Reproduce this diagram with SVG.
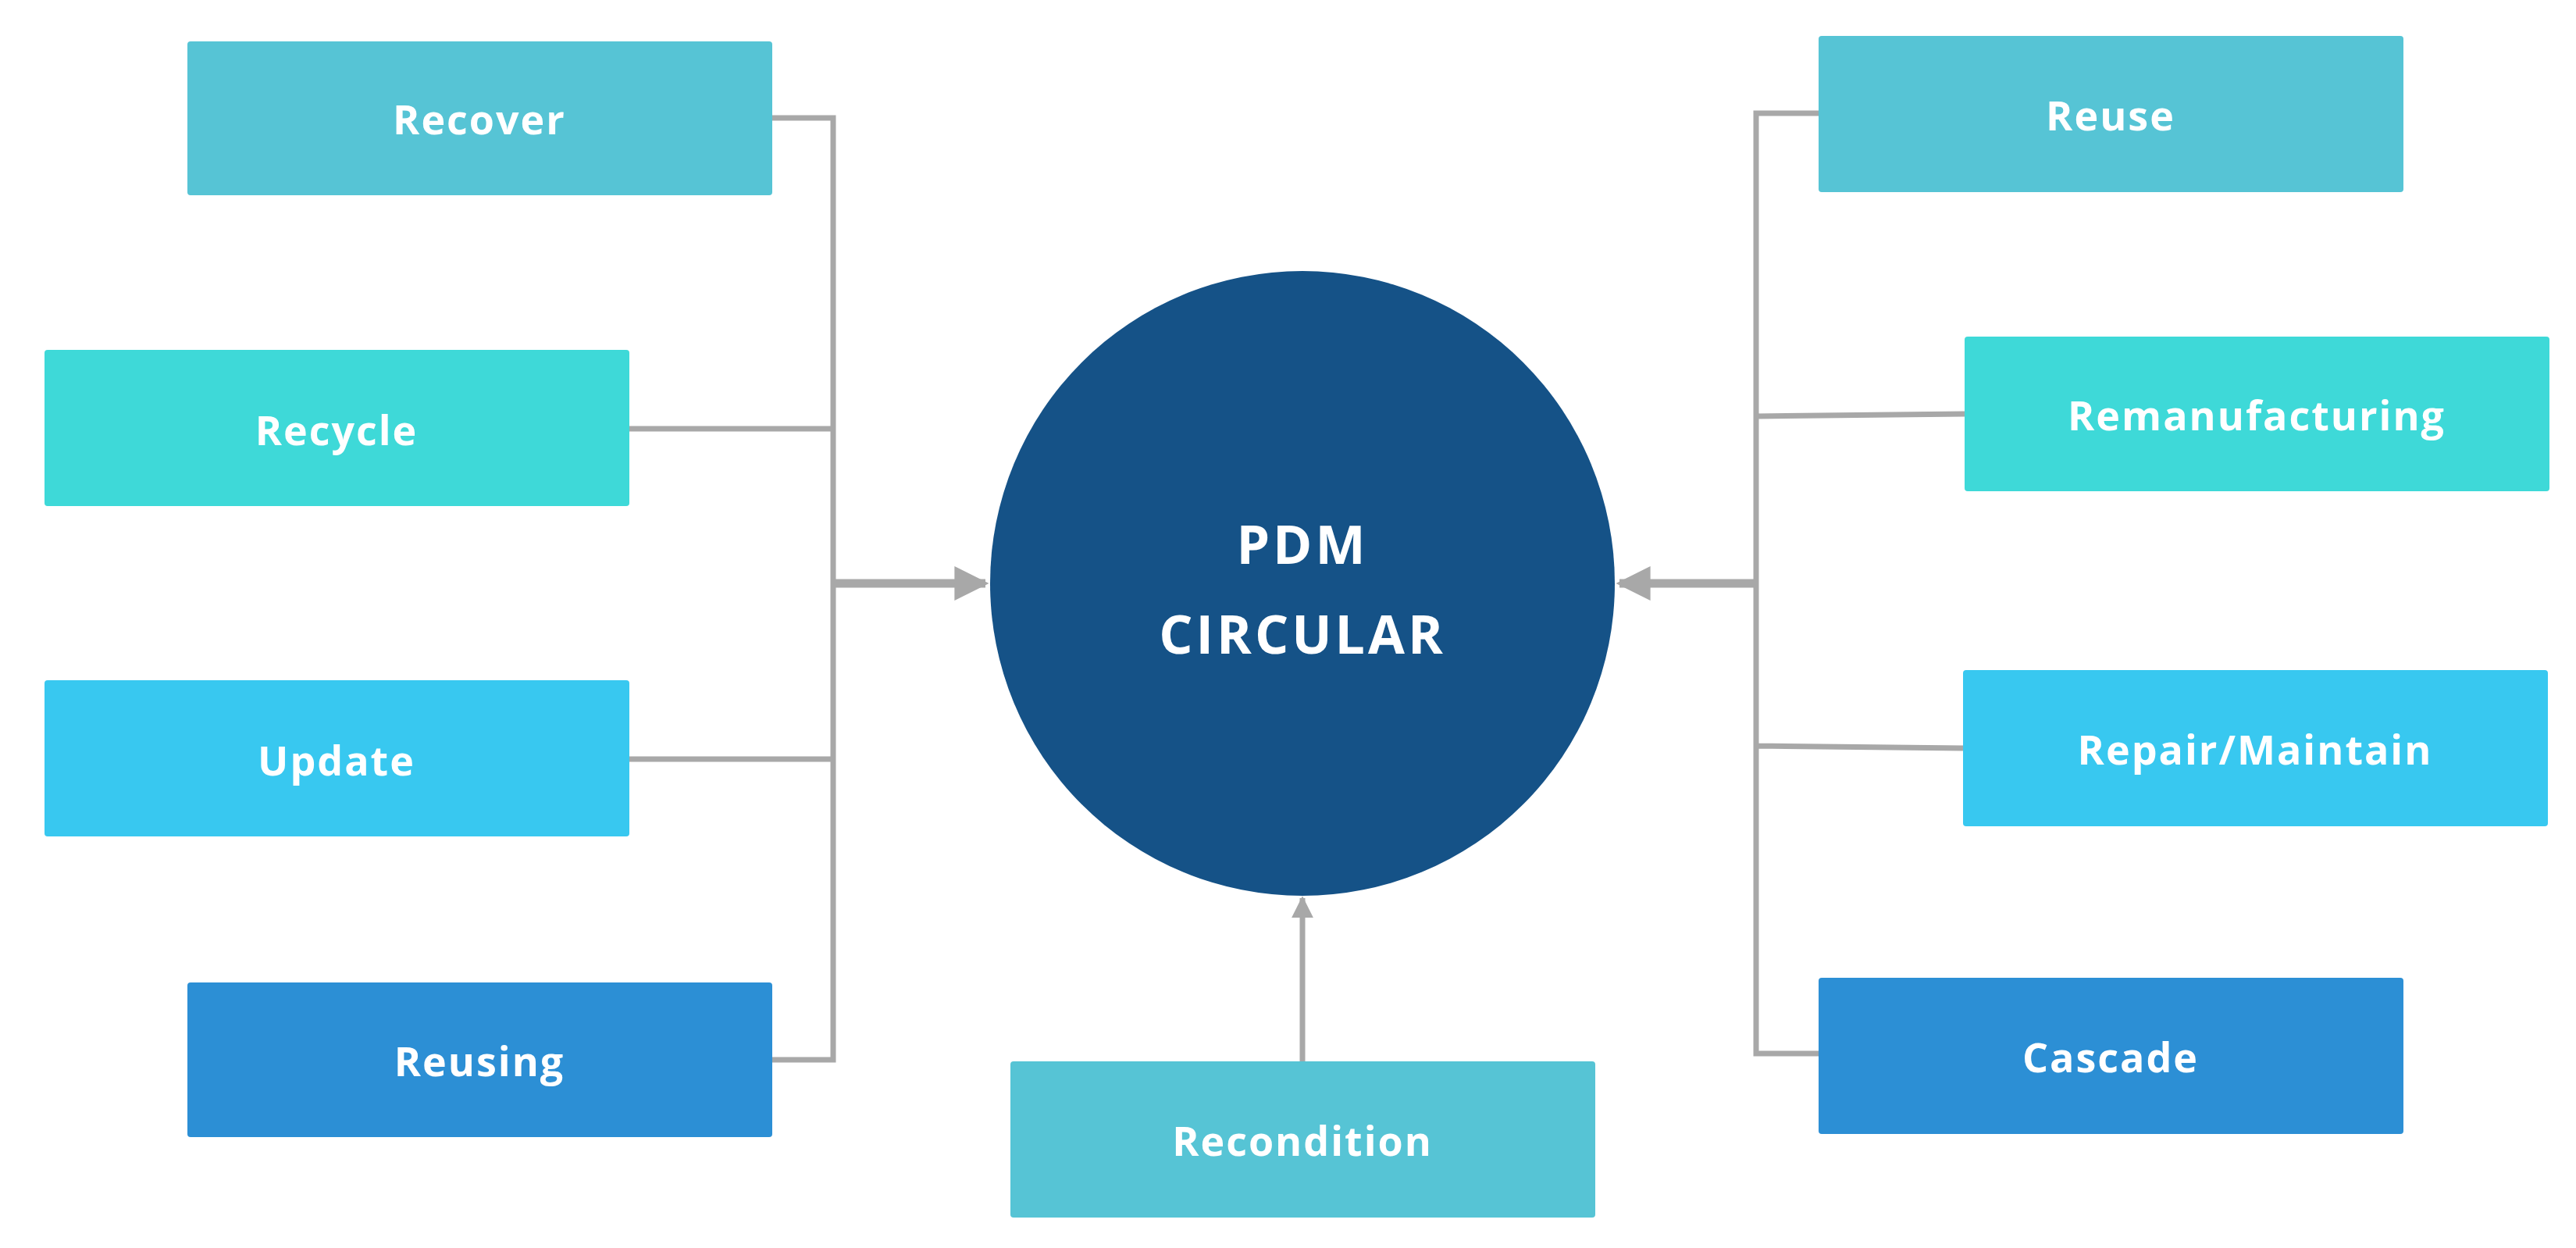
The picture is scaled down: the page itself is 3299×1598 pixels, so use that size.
<svg xmlns="http://www.w3.org/2000/svg" width="3299" height="1598" viewBox="0 0 3299 1598">
<style>
.t{font-family:"Open Sans","Liberation Sans",sans-serif;font-weight:bold;font-size:52px;fill:#fff;text-anchor:middle;dominant-baseline:central;letter-spacing:2px}
.c{font-size:68px;letter-spacing:4px}
.l{stroke:#A8A8A8;stroke-width:7;fill:none}
.a{stroke:#A8A8A8;stroke-width:11;fill:none}
</style>
<defs><marker id="ah" viewBox="0 0 10 10" refX="9" refY="5" markerWidth="4" markerHeight="5" markerUnits="strokeWidth" orient="auto"><path d="M0,0 L10,5 L0,10 z" fill="#A8A8A8"/></marker></defs>
<rect width="3299" height="1598" fill="#fff"/>
<g id="connectors">
<path class="l" d="M989,151 H1067 V1357 H989 M806,549 H1067 M806,972 H1067"/>
<path class="a" d="M1067,747 H1262" marker-end="url(#ah)"/>
<path class="l" d="M2329,145 H2249 V1349 H2329 M2516,530 L2249,533 M2514,958 L2249,955"/>
<path class="a" d="M2249,747 H2074" marker-end="url(#ah)"/>
<path class="l" d="M1668,1359 V1150" marker-end="url(#ah)"/>
</g>
<g id="center"><circle cx="1668" cy="747" r="400" fill="#155287"/><text class="t c" x="1668" y="695">PDM</text><text class="t c" x="1668" y="810">CIRCULAR</text></g>
<g id="recover"><rect x="240" y="53" width="749" height="197" rx="4" fill="#56C4D5"/><text class="t" x="614" y="151">Recover</text></g>
<g id="recycle"><rect x="57" y="448" width="749" height="200" rx="4" fill="#3ED9D8"/><text class="t" x="431" y="549">Recycle</text></g>
<g id="update"><rect x="57" y="871" width="749" height="200" rx="4" fill="#38C8F0"/><text class="t" x="431" y="972">Update</text></g>
<g id="reusing"><rect x="240" y="1258" width="749" height="198" rx="4" fill="#2C8FD5"/><text class="t" x="614" y="1357">Reusing</text></g>
<g id="reuse"><rect x="2329" y="46" width="749" height="200" rx="4" fill="#56C4D5"/><text class="t" x="2703" y="146">Reuse</text></g>
<g id="remanufacturing"><rect x="2516" y="431" width="749" height="198" rx="4" fill="#3ED9D8"/><text class="t" x="2890" y="530">Remanufacturing</text></g>
<g id="repair"><rect x="2514" y="858" width="749" height="200" rx="4" fill="#38C8F0"/><text class="t" x="2888" y="958">Repair/Maintain</text></g>
<g id="cascade"><rect x="2329" y="1252" width="749" height="200" rx="4" fill="#2C8FD5"/><text class="t" x="2703" y="1352">Cascade</text></g>
<g id="recondition"><rect x="1294" y="1359" width="749" height="200" rx="4" fill="#56C4D5"/><text class="t" x="1668" y="1459">Recondition</text></g>
</svg>
